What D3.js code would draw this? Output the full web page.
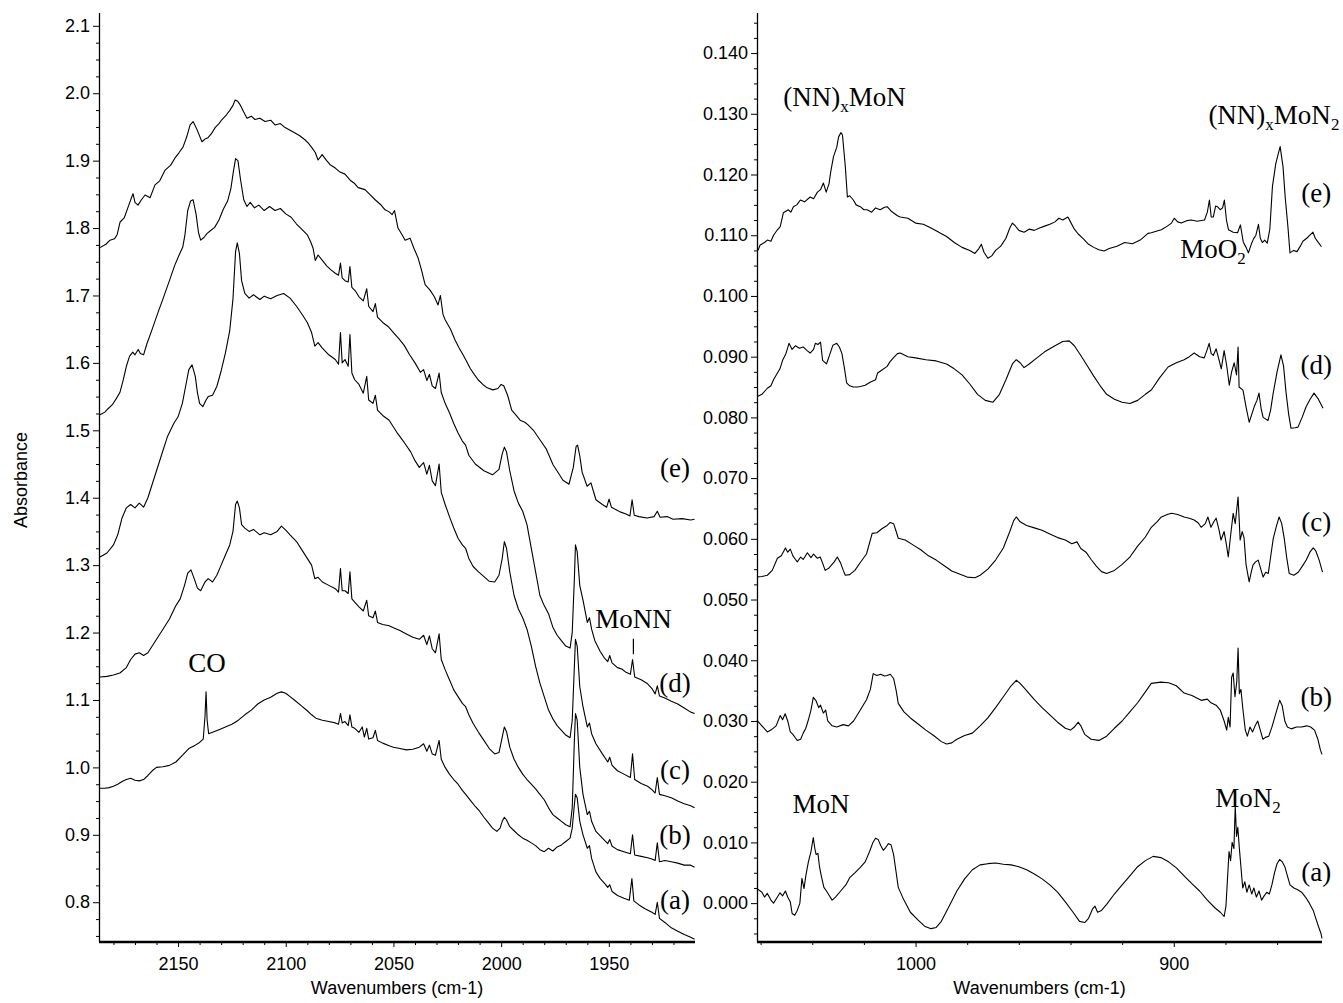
<!DOCTYPE html>
<html><head><meta charset="utf-8">
<script src="https://cdn.jsdelivr.net/npm/d3@7"></script>
<style>
body{margin:0;background:#fff;}
svg{display:block;background:#fff;}
</style></head><body>
<svg id="chart" width="1343" height="1003"></svg>
<script>
// ---------- DATA ----------
const leftXTicks = [2150, 2100, 2050, 2000, 1950];
const leftYTicks = [0.8, 0.9, 1.0, 1.1, 1.2, 1.3, 1.4, 1.5, 1.6, 1.7, 1.8, 1.9, 2.0, 2.1];
const rightXTicks = [1000, 900];
const rightYTicks = [0.000, 0.010, 0.020, 0.030, 0.040, 0.050, 0.060, 0.070, 0.080, 0.090, 0.100, 0.110, 0.120, 0.130, 0.140];
const seriesNames = ["(e)", "(d)", "(c)", "(b)", "(a)"];
const xTitle = "Wavenumbers (cm-1)";
const yTitle = "Absorbance";

// left panel spectra: [wavenumber, absorbance]
const leftE = [[2186.2,1.771],[2183.5,1.776],[2181.6,1.782],[2179.5,1.784],[2178.3,1.790],[2176.9,1.809],[2175,1.815],[2173.2,1.831],[2171.5,1.846],[2170.9,1.851],[2170,1.838],[2168.6,1.834],[2167,1.842],[2165.3,1.849],[2163,1.845],[2160.7,1.864],[2158.5,1.870],[2156.0,1.886],[2153.5,1.893],[2151.4,1.904],[2149.5,1.912],[2147.7,1.920],[2146,1.935],[2144.4,1.953],[2143.0,1.958],[2141.2,1.946],[2138.9,1.928],[2137.5,1.932],[2136.1,1.934],[2134.5,1.940],[2132.8,1.949],[2131,1.955],[2129.6,1.961],[2127.5,1.968],[2125.9,1.975],[2124.5,1.982],[2123.5,1.990],[2122.3,1.988],[2121.2,1.983],[2119.5,1.972],[2118.0,1.963],[2116,1.966],[2114.3,1.961],[2112,1.963],[2109.6,1.958],[2107,1.960],[2105.0,1.953],[2102.5,1.955],[2100.3,1.949],[2098,1.945],[2095.7,1.941],[2093.5,1.937],[2091.1,1.931],[2089.5,1.926],[2087.8,1.919],[2086.3,1.912],[2085.0,1.901],[2083.1,1.909],[2081,1.900],[2079.4,1.894],[2077,1.889],[2074.8,1.883],[2072.5,1.880],[2070.1,1.871],[2068,1.866],[2066.4,1.860],[2063.2,1.857],[2061,1.850],[2058.5,1.842],[2056,1.835],[2053.9,1.827],[2052,1.824],[2050.6,1.820],[2049.5,1.826],[2047.9,1.800],[2046,1.790],[2044.6,1.782],[2042.3,1.785],[2040.5,1.770],[2038.6,1.756],[2037,1.738],[2035.3,1.716],[2033.0,1.708],[2031,1.698],[2029.3,1.686],[2028.2,1.700],[2027,1.672],[2026.0,1.664],[2023.5,1.650],[2021.4,1.634],[2019.5,1.622],[2017.7,1.612],[2016,1.602],[2014.4,1.592],[2012.5,1.583],[2010.7,1.575],[2008.5,1.568],[2006.5,1.563],[2003.8,1.560],[2001.5,1.562],[2000.0,1.568],[1998.8,1.566],[1997,1.552],[1995.1,1.530],[1993,1.522],[1991.2,1.515],[1989,1.512],[1987.5,1.508],[1985,1.500],[1982.0,1.486],[1979,1.472],[1975.9,1.449],[1973.5,1.437],[1971.3,1.426],[1968.5,1.420],[1966.5,1.445],[1965.2,1.476],[1964.5,1.478],[1963.5,1.462],[1962.4,1.438],[1960.1,1.417],[1958.3,1.422],[1957.2,1.410],[1956.0,1.397],[1953,1.390],[1951.0,1.386],[1949.9,1.398],[1948.8,1.386],[1946,1.381],[1944.8,1.379],[1942,1.376],[1940.2,1.373],[1939.2,1.397],[1938.2,1.374],[1936,1.372],[1932.3,1.370],[1929,1.372],[1927.5,1.380],[1926.2,1.371],[1923,1.372],[1920.2,1.368],[1916,1.369],[1912,1.367],[1910.2,1.368]];

const leftD = [[2186.2,1.523],[2184,1.527],[2182.5,1.532],[2180.5,1.538],[2178.7,1.547],[2177,1.556],[2175.5,1.574],[2174,1.595],[2172.5,1.610],[2171,1.616],[2170,1.612],[2168.5,1.620],[2167.5,1.614],[2166,1.612],[2164.5,1.628],[2162,1.650],[2159.5,1.673],[2157,1.695],[2154,1.722],[2151.5,1.745],[2149.5,1.760],[2147.8,1.772],[2146.8,1.790],[2145.5,1.826],[2144.2,1.840],[2143,1.842],[2141.6,1.820],[2140.5,1.793],[2139.5,1.782],[2138,1.786],[2136.5,1.792],[2135,1.796],[2133,1.801],[2131,1.812],[2129,1.828],[2127,1.840],[2125.5,1.858],[2124.3,1.884],[2123.3,1.903],[2122.2,1.900],[2121,1.872],[2119.5,1.842],[2118,1.832],[2116.5,1.838],[2114.5,1.830],[2112.5,1.834],[2110,1.826],[2107.5,1.832],[2105,1.826],[2102.5,1.829],[2100,1.821],[2097.5,1.816],[2095,1.806],[2092.5,1.798],[2090,1.790],[2088.5,1.780],[2087.3,1.770],[2086.3,1.752],[2085,1.760],[2083,1.752],[2081,1.744],[2079,1.738],[2077,1.733],[2075.5,1.730],[2074.6,1.748],[2073.8,1.726],[2072.5,1.722],[2071,1.720],[2070.2,1.743],[2069.3,1.712],[2067.5,1.706],[2066,1.698],[2064,1.692],[2062.4,1.710],[2061.5,1.684],[2059.5,1.676],[2058.4,1.688],[2057.4,1.668],[2055,1.660],[2052.5,1.654],[2050,1.645],[2047.5,1.636],[2045,1.626],[2042.5,1.612],[2040,1.600],[2037.5,1.586],[2036,1.590],[2034.5,1.574],[2033.3,1.583],[2032,1.566],[2030.5,1.562],[2028.8,1.585],[2027.8,1.556],[2026,1.540],[2024,1.526],[2022,1.510],[2020,1.496],[2018,1.484],[2016.5,1.478],[2015,1.463],[2012,1.450],[2008,1.440],[2004,1.434],[2001,1.442],[1999.5,1.465],[1998.5,1.475],[1997.5,1.468],[1996,1.440],[1994,1.410],[1992,1.392],[1990,1.380],[1988,1.360],[1986,1.325],[1984,1.290],[1982,1.255],[1980,1.240],[1978,1.228],[1976,1.208],[1974,1.196],[1972.5,1.190],[1970,1.180],[1968,1.177],[1967,1.200],[1966,1.280],[1965.5,1.330],[1964.7,1.320],[1963.5,1.270],[1962,1.248],[1960,1.215],[1959,1.222],[1958,1.205],[1956.5,1.188],[1954,1.172],[1952,1.162],[1950.5,1.157],[1949.6,1.166],[1948.5,1.155],[1946,1.148],[1944,1.146],[1942,1.141],[1940,1.138],[1939,1.160],[1938,1.134],[1935,1.130],[1932,1.124],[1930,1.117],[1928.5,1.109],[1927.5,1.121],[1926.5,1.106],[1924,1.103],[1921,1.098],[1918,1.094],[1915,1.088],[1912,1.082],[1910.2,1.080]];

const leftC = [[2186.2,1.312],[2183,1.318],[2180,1.330],[2178,1.345],[2176,1.370],[2174,1.385],[2172,1.390],[2170,1.385],[2168,1.392],[2166,1.386],[2164,1.400],[2161,1.430],[2158,1.460],[2155,1.490],[2152,1.510],[2150,1.520],[2148,1.540],[2146.5,1.565],[2145,1.590],[2143.5,1.597],[2142,1.580],[2141,1.556],[2140,1.540],[2138.5,1.535],[2137,1.545],[2136,1.550],[2134,1.552],[2132,1.565],[2130,1.588],[2128,1.615],[2126,1.648],[2124.5,1.695],[2123.3,1.765],[2122.5,1.778],[2121.5,1.762],[2120.5,1.722],[2119,1.703],[2117,1.696],[2115,1.701],[2112,1.694],[2110,1.699],[2107,1.695],[2104,1.700],[2101,1.703],[2098,1.696],[2095,1.684],[2092,1.670],[2090,1.660],[2088,1.645],[2086.5,1.625],[2085,1.630],[2083,1.622],[2080,1.612],[2077,1.605],[2075.5,1.598],[2074.6,1.645],[2073.8,1.600],[2072.5,1.605],[2071,1.595],[2070.2,1.642],[2069.3,1.585],[2068,1.575],[2066,1.568],[2064,1.555],[2062.4,1.580],[2061.5,1.545],[2059.5,1.540],[2058.4,1.552],[2057.4,1.530],[2055,1.522],[2052,1.515],[2050,1.505],[2048,1.495],[2045,1.482],[2042,1.468],[2040,1.455],[2038,1.445],[2036,1.452],[2034.5,1.435],[2033.3,1.448],[2032,1.425],[2030.5,1.418],[2028.8,1.450],[2027.8,1.408],[2026,1.390],[2024,1.372],[2022,1.355],[2020,1.340],[2018,1.330],[2016.5,1.325],[2015,1.310],[2013,1.298],[2010.5,1.290],[2008,1.283],[2005.5,1.276],[2003,1.275],[2001,1.285],[1999.5,1.310],[1998.5,1.335],[1997.5,1.325],[1996,1.290],[1994,1.255],[1992,1.235],[1990,1.222],[1988,1.205],[1986,1.180],[1984,1.150],[1982,1.125],[1980,1.105],[1978,1.085],[1976,1.072],[1974,1.062],[1972,1.055],[1970,1.048],[1968,1.044],[1967,1.070],[1966,1.150],[1965.5,1.190],[1964.7,1.180],[1963.5,1.120],[1962,1.090],[1960,1.060],[1959,1.066],[1958,1.050],[1956,1.035],[1953,1.020],[1950.5,1.008],[1949.6,1.015],[1948.5,1.003],[1946,0.995],[1943,0.990],[1940,0.985],[1939,1.020],[1938,0.982],[1935,0.976],[1932,0.972],[1930,0.967],[1928.5,0.962],[1927.5,0.985],[1926.5,0.960],[1924,0.958],[1921,0.955],[1918,0.950],[1915,0.946],[1912,0.943],[1910.2,0.940]];

const leftB = [[2186.2,1.134],[2183,1.135],[2180,1.137],[2177,1.140],[2174,1.148],[2172,1.160],[2170,1.168],[2168,1.170],[2166,1.166],[2164,1.170],[2162,1.180],[2160,1.190],[2157,1.205],[2154,1.220],[2151,1.240],[2149,1.250],[2147,1.270],[2145.5,1.288],[2144,1.293],[2142.5,1.280],[2141,1.266],[2139.5,1.262],[2137.5,1.275],[2136,1.280],[2134,1.275],[2132,1.285],[2130,1.300],[2128,1.315],[2126,1.330],[2124.5,1.350],[2123.3,1.390],[2122.5,1.395],[2121.5,1.385],[2120.5,1.360],[2119,1.355],[2117,1.350],[2115,1.353],[2112,1.345],[2110,1.348],[2107,1.345],[2104,1.350],[2102,1.358],[2100,1.352],[2098,1.345],[2095,1.335],[2092,1.320],[2090,1.310],[2088,1.300],[2086.5,1.280],[2085,1.282],[2083,1.275],[2080,1.270],[2077,1.265],[2075.5,1.260],[2074.6,1.295],[2073.8,1.262],[2072.5,1.262],[2071,1.258],[2070.2,1.290],[2069.3,1.250],[2068,1.245],[2066,1.238],[2064,1.232],[2062.4,1.248],[2061.5,1.225],[2059.5,1.222],[2058.4,1.232],[2057.4,1.215],[2055,1.212],[2052,1.210],[2050,1.207],[2047,1.203],[2044,1.198],[2041,1.193],[2038,1.190],[2036,1.196],[2034.5,1.182],[2033.3,1.195],[2032,1.176],[2030.5,1.170],[2028.8,1.198],[2027.8,1.160],[2026,1.145],[2024,1.130],[2022,1.115],[2020,1.105],[2018,1.095],[2016.5,1.090],[2015,1.078],[2013,1.065],[2010.5,1.052],[2008,1.040],[2005.5,1.028],[2003,1.020],[2001,1.022],[1999.5,1.045],[1998.5,1.060],[1997.5,1.053],[1996,1.030],[1994,1.012],[1992,1.000],[1990,0.990],[1988,0.982],[1986,0.975],[1984,0.968],[1982,0.960],[1980,0.952],[1978,0.940],[1976,0.930],[1974,0.925],[1972,0.920],[1970,0.915],[1968,0.912],[1967,0.940],[1966,1.040],[1965.5,1.080],[1964.7,1.070],[1963.5,1.000],[1962,0.960],[1960,0.930],[1959,0.935],[1958,0.920],[1956,0.905],[1953,0.895],[1950.5,0.887],[1949.6,0.893],[1948.5,0.883],[1946,0.878],[1943,0.875],[1940,0.872],[1939,0.900],[1938,0.870],[1935,0.868],[1932,0.866],[1930,0.864],[1928.5,0.862],[1927.5,0.888],[1926.5,0.860],[1924,0.862],[1921,0.860],[1918,0.858],[1915,0.855],[1912,0.855],[1910.2,0.852]];

const leftA = [[2186.2,0.969],[2184,0.969],[2182,0.970],[2180,0.972],[2178,0.975],[2176,0.979],[2174,0.982],[2172,0.984],[2170,0.981],[2168,0.980],[2166,0.982],[2164,0.988],[2162,0.995],[2160,1.000],[2157,1.001],[2154,1.003],[2151,1.008],[2148,1.018],[2145,1.028],[2142,1.033],[2140,1.037],[2138.3,1.042],[2137.5,1.075],[2137,1.112],[2136.5,1.070],[2135.8,1.050],[2134,1.052],[2131,1.056],[2128,1.060],[2125,1.064],[2122,1.070],[2119,1.078],[2116,1.085],[2113,1.094],[2110,1.100],[2107,1.104],[2104,1.110],[2102,1.112],[2100,1.110],[2098,1.105],[2096,1.100],[2093,1.092],[2090,1.084],[2088,1.078],[2086,1.073],[2083,1.070],[2080,1.068],[2077,1.066],[2075.5,1.064],[2074.6,1.080],[2073.8,1.066],[2072.5,1.068],[2071,1.062],[2070.2,1.078],[2069.3,1.060],[2068,1.058],[2066,1.052],[2064.5,1.060],[2063.5,1.045],[2062.4,1.058],[2061.5,1.042],[2059.5,1.044],[2058.4,1.055],[2057.4,1.040],[2055,1.036],[2052,1.032],[2050,1.030],[2047,1.028],[2044,1.026],[2041,1.027],[2038,1.030],[2036,1.035],[2034.5,1.024],[2033.3,1.033],[2032,1.020],[2030.5,1.018],[2028.8,1.040],[2027.8,1.012],[2026,1.000],[2024,0.990],[2022,0.982],[2020,0.975],[2018,0.966],[2016,0.958],[2014,0.950],[2012,0.942],[2010,0.935],[2008,0.926],[2006,0.918],[2004,0.910],[2002,0.905],[2000.5,0.910],[1999.5,0.920],[1998.5,0.926],[1997.5,0.922],[1996,0.912],[1994,0.906],[1992,0.900],[1990,0.895],[1988,0.892],[1986,0.888],[1984,0.884],[1982,0.878],[1980,0.875],[1978,0.880],[1976,0.876],[1974,0.882],[1972,0.885],[1970,0.890],[1968,0.895],[1967,0.910],[1966,0.945],[1965.5,0.960],[1964.7,0.955],[1963.5,0.920],[1962,0.900],[1960,0.880],[1959,0.884],[1958,0.865],[1956,0.845],[1954,0.835],[1952,0.828],[1950.5,0.822],[1949.6,0.826],[1948.5,0.816],[1946,0.810],[1943,0.806],[1940.5,0.803],[1939.3,0.835],[1938.4,0.802],[1936,0.796],[1933,0.790],[1930,0.785],[1928.5,0.782],[1927.5,0.800],[1926.5,0.776],[1924,0.770],[1921,0.762],[1918,0.757],[1915,0.752],[1912,0.748],[1910.2,0.745]];

// right panel spectra: [wavenumber, absorbance]
const rightE = [[1061,0.1075],[1060.2,0.1084],[1058.5,0.1088],[1057.4,0.1092],[1056,0.1090],[1055,0.1100],[1053.5,0.1109],[1052.4,0.1114],[1051.2,0.1137],[1049.3,0.1142],[1048.3,0.1138],[1047.3,0.1147],[1046,0.1150],[1044.6,0.1158],[1043,0.1155],[1040.8,0.1163],[1039.5,0.1160],[1038.0,0.1171],[1036.8,0.1175],[1035.7,0.1186],[1034.6,0.1171],[1033.5,0.1185],[1032.9,0.1203],[1031.8,0.1229],[1030.5,0.1245],[1029.8,0.1262],[1028.9,0.1269],[1028.3,0.1265],[1027.2,0.1213],[1026.4,0.1163],[1025.5,0.1165],[1024.1,0.1158],[1023,0.1150],[1021.4,0.1147],[1020,0.1142],[1018.7,0.1142],[1017,0.1138],[1015.5,0.1145],[1013.7,0.1142],[1012,0.1146],[1011.0,0.1147],[1009.5,0.1140],[1008.6,0.1137],[1007,0.1132],[1005.9,0.1130],[1003,0.1128],[1000,0.1120],[997,0.1118],[994,0.1112],[991,0.1105],[988,0.1098],[985,0.1088],[982,0.1080],[979,0.1075],[977,0.1070],[975.5,0.1078],[974.5,0.1085],[973.5,0.1072],[972,0.1062],[970.5,0.1066],[969,0.1075],[967,0.1082],[965,0.1095],[963.5,0.1112],[962.5,0.1120],[961.5,0.1116],[960,0.1108],[958,0.1105],[956,0.1110],[954,0.1108],[952,0.1112],[950,0.1115],[948,0.1118],[946,0.1122],[944.5,0.1128],[943,0.1125],[941,0.1130],[940,0.1122],[938.5,0.1110],[937,0.1102],[935,0.1094],[933,0.1085],[931,0.1080],[929,0.1076],[927,0.1074],[925,0.1078],[922,0.1082],[919,0.1088],[916,0.1086],[913,0.1092],[910,0.1103],[908.7,0.1104],[906.5,0.1107],[904.8,0.1109],[902.5,0.1115],[900.9,0.1120],[899.8,0.1128],[898.5,0.1122],[897.1,0.1120],[895,0.1124],[893.2,0.1125],[891,0.1123],[888.1,0.1125],[887,0.1138],[886.2,0.1158],[885.5,0.1130],[884.7,0.1130],[883.8,0.1148],[883.1,0.1147],[882,0.1142],[881.1,0.1145],[880.4,0.1158],[879.6,0.1125],[878.8,0.1109],[877,0.1105],[875.3,0.1104],[874.2,0.1117],[873.1,0.1089],[872,0.1080],[871.1,0.1071],[870,0.1085],[869.1,0.1094],[868.2,0.1100],[867.2,0.1118],[866.5,0.1095],[865.7,0.1088],[864.8,0.1092],[863.8,0.1087],[862.8,0.1110],[861.8,0.1180],[860.5,0.1218],[859.5,0.1235],[858.8,0.1246],[857.7,0.1213],[856.8,0.1160],[855.8,0.1114],[855,0.1071],[853.6,0.1075],[852.3,0.1073],[851,0.1082],[850,0.1090],[848.5,0.1095],[847.3,0.1100],[846.1,0.1105],[845.2,0.1095],[844.2,0.1089],[842.8,0.1081]];

const rightD = [[1061,0.0835],[1059.5,0.0838],[1057.4,0.0848],[1056,0.0852],[1055,0.0862],[1053.5,0.0873],[1052.5,0.0880],[1051.5,0.0894],[1050.2,0.0905],[1049,0.0922],[1047.8,0.0912],[1046.5,0.0918],[1045,0.0914],[1043.5,0.0916],[1042,0.0910],[1040.8,0.0906],[1039.5,0.0912],[1038.8,0.0922],[1037.8,0.0920],[1036.8,0.0924],[1036,0.0894],[1034.5,0.0888],[1033.5,0.0900],[1032,0.0919],[1030.5,0.0922],[1029.5,0.0916],[1028.5,0.0905],[1027.5,0.0880],[1026.7,0.0857],[1025.5,0.0852],[1024.1,0.0850],[1022.5,0.0850],[1021.4,0.0851],[1019.5,0.0853],[1017.6,0.0858],[1015.5,0.0862],[1014.7,0.0873],[1013,0.0878],[1011,0.0884],[1010,0.0891],[1008.6,0.0898],[1007,0.0905],[1005.9,0.0906],[1003,0.0900],[1000,0.0898],[996,0.0895],[992,0.0893],[988,0.0888],[985,0.0880],[982,0.0870],[979,0.0855],[976,0.0838],[973,0.0828],[970,0.0825],[967.5,0.0838],[965,0.0862],[962.5,0.0888],[961,0.0895],[959.5,0.0890],[958,0.0882],[956,0.0888],[953,0.0898],[950,0.0908],[946,0.0918],[943,0.0925],[940.5,0.0926],[938.5,0.0918],[936,0.0902],[933.5,0.0885],[931,0.0868],[928.5,0.0852],[926,0.0838],[923,0.0830],[920,0.0825],[917,0.0823],[914,0.0828],[911,0.0838],[908.7,0.0845],[905.5,0.0865],[902.2,0.0883],[899,0.0890],[896,0.0895],[894,0.0900],[892.1,0.0906],[890,0.0900],[888.2,0.0898],[887.2,0.0910],[886.3,0.0922],[885.5,0.0905],[884.7,0.0902],[883.6,0.0913],[882.5,0.0895],[881.6,0.0880],[880.5,0.0910],[879.5,0.0885],[878.5,0.0853],[877.6,0.0875],[876.6,0.0890],[875.7,0.0870],[875.1,0.0916],[874.7,0.0850],[873.2,0.0845],[872,0.0817],[870.8,0.0792],[869.8,0.0805],[868.9,0.0817],[867.8,0.0828],[867,0.0840],[866.2,0.0815],[865.4,0.0800],[863.5,0.0795],[862.5,0.0812],[861.5,0.0840],[860,0.0875],[858.5,0.0903],[857.5,0.0885],[856.5,0.0840],[855.5,0.0805],[854.6,0.0782],[853,0.0783],[851.9,0.0784],[850.3,0.0800],[848.8,0.0817],[847.2,0.0830],[845.7,0.0840],[844,0.0830],[842.2,0.0815]];

const rightC = [[1061.4,0.0537],[1059.5,0.0538],[1057.4,0.0540],[1055.5,0.0548],[1053.5,0.0568],[1052,0.0572],[1051,0.0580],[1050.4,0.0585],[1049.5,0.0578],[1048.5,0.0583],[1047.5,0.0572],[1046.5,0.0566],[1045.8,0.0562],[1044.5,0.0570],[1043.5,0.0566],[1041.9,0.0577],[1040.5,0.0569],[1039.5,0.0575],[1038,0.0568],[1036.9,0.0570],[1036,0.0560],[1035,0.0548],[1033.5,0.0552],[1031.5,0.0562],[1030.3,0.0570],[1029,0.0560],[1028,0.0548],[1027.2,0.0540],[1025.5,0.0541],[1023.5,0.0548],[1021.4,0.0561],[1019,0.0575],[1016.8,0.0609],[1015,0.0610],[1012.9,0.0617],[1011,0.0622],[1009.8,0.0627],[1008.5,0.0625],[1007.5,0.0612],[1006.7,0.0601],[1004,0.0598],[1001,0.0590],[998,0.0582],[995,0.0572],[992,0.0565],[989,0.0556],[986,0.0547],[983,0.0542],[980,0.0537],[977,0.0536],[975,0.0540],[972,0.0550],[969,0.0565],[966,0.0585],[963.5,0.0612],[962,0.0630],[961,0.0636],[959.5,0.0628],[957,0.0622],[954,0.0618],[951,0.0614],[948,0.0608],[945,0.0602],[942,0.0598],[939.5,0.0592],[937.5,0.0595],[936,0.0584],[934,0.0578],[932,0.0566],[930,0.0555],[928,0.0546],[926,0.0543],[923,0.0548],[920,0.0558],[917,0.0570],[914,0.0588],[911,0.0603],[908.7,0.0619],[906.5,0.0628],[904.8,0.0636],[902.5,0.0640],[900.9,0.0642],[898.5,0.0640],[896,0.0636],[894,0.0634],[892.1,0.0631],[890.5,0.0626],[889.4,0.0619],[887.8,0.0625],[886.8,0.0636],[885.6,0.0619],[884.5,0.0628],[883.6,0.0634],[882.5,0.0615],[881.7,0.0598],[880.5,0.0612],[879.6,0.0590],[878.9,0.0570],[878,0.0605],[877,0.0642],[876.2,0.0625],[875.1,0.0669],[874.3,0.0598],[873.5,0.0612],[872.8,0.0602],[872,0.0557],[870.8,0.0529],[870,0.0545],[869.3,0.0557],[868.3,0.0562],[867.3,0.0565],[866.3,0.0550],[865.4,0.0537],[864.4,0.0545],[863.4,0.0543],[862.5,0.0570],[861.5,0.0600],[860.3,0.0620],[859.2,0.0636],[858.2,0.0625],[857.2,0.0600],[856.3,0.0570],[855.3,0.0543],[853.5,0.0540],[851.8,0.0545],[850.2,0.0555],[848.7,0.0565],[847.3,0.0578],[846,0.0585],[845,0.0580],[843.7,0.0565],[842.4,0.0545]];

const rightB = [[1061.4,0.0301],[1059.5,0.0292],[1057.4,0.0282],[1056,0.0285],[1054,0.0292],[1052.4,0.0309],[1051.5,0.0302],[1050.5,0.0312],[1049.5,0.0300],[1048.5,0.0282],[1047.5,0.0278],[1046.5,0.0272],[1045.8,0.0268],[1044.5,0.0270],[1043.5,0.0280],[1042.5,0.0288],[1041.5,0.0302],[1040.5,0.0318],[1039.6,0.0339],[1038.5,0.0333],[1037.5,0.0322],[1036.8,0.0326],[1035.7,0.0313],[1034.8,0.0318],[1034,0.0300],[1032.3,0.0292],[1030.5,0.0290],[1028,0.0294],[1026,0.0292],[1024,0.0300],[1021.4,0.0318],[1019,0.0335],[1017.5,0.0352],[1016.4,0.0378],[1015,0.0375],[1013.5,0.0377],[1012,0.0374],[1011,0.0375],[1009.8,0.0377],[1008.5,0.0370],[1007.5,0.0350],[1006.7,0.0329],[1004.5,0.0315],[1002,0.0305],[999,0.0295],[996,0.0285],[993,0.0276],[990,0.0266],[988,0.0262],[986,0.0264],[984,0.0270],[981,0.0276],[978,0.0280],[975,0.0292],[972,0.0305],[969,0.0322],[966,0.0340],[963,0.0358],[961,0.0367],[959.5,0.0362],[957,0.0350],[954,0.0335],[951,0.0322],[948,0.0310],[945,0.0298],[942,0.0288],[940,0.0285],[938.5,0.0290],[937,0.0298],[936,0.0292],[934.5,0.0278],[932,0.0270],[929,0.0268],[926,0.0275],[923,0.0288],[920,0.0300],[917,0.0315],[914,0.0330],[911,0.0348],[908.7,0.0362],[905,0.0364],[902,0.0363],[899,0.0358],[896,0.0346],[893,0.0342],[889.4,0.0334],[887,0.0336],[885.6,0.0330],[883.6,0.0326],[882,0.0318],[880.5,0.0300],[879.5,0.0285],[878.9,0.0306],[878.2,0.0290],[877.6,0.0372],[877,0.0379],[876.3,0.0340],[875.6,0.0365],[875.1,0.0420],[874.6,0.0345],[874,0.0352],[873.2,0.0318],[872.3,0.0285],[871.5,0.0275],[870.5,0.0290],[869.5,0.0282],[868.5,0.0292],[867.5,0.0300],[866.5,0.0285],[865.5,0.0270],[864.5,0.0273],[863.2,0.0275],[862,0.0290],[860.5,0.0312],[859,0.0334],[858,0.0325],[857,0.0300],[856,0.0290],[854.5,0.0287],[852.5,0.0290],[850.5,0.0290],[848.5,0.0292],[847,0.0290],[845.5,0.0285],[844.2,0.0270],[843.2,0.0252],[842.6,0.0245]];

const rightA = [[1061.4,0.0024],[1059.5,0.0018],[1058.5,0.0010],[1057.4,0.0016],[1056,0.0005],[1055,0.0000],[1053.5,0.0010],[1052.5,0.0017],[1051.5,0.0012],[1050.4,0.0020],[1049.5,0.0010],[1048.5,0.0002],[1047.8,-0.0017],[1046.8,-0.0020],[1045.8,-0.0012],[1044.8,0.0000],[1044,0.0041],[1043.2,0.0024],[1042.5,0.0045],[1041.5,0.0068],[1040.5,0.0085],[1039.6,0.0108],[1039,0.0090],[1038.5,0.0080],[1037.8,0.0082],[1037.2,0.0060],[1036.5,0.0045],[1035.5,0.0026],[1034.5,0.0020],[1033.5,0.0013],[1032.3,0.0005],[1031,0.0010],[1029,0.0020],[1027,0.0030],[1025.5,0.0042],[1023.5,0.0050],[1021.4,0.0059],[1019.5,0.0068],[1017.8,0.0085],[1016.5,0.0100],[1015.5,0.0107],[1014.5,0.0105],[1013.5,0.0095],[1012.5,0.0087],[1011.5,0.0092],[1010.5,0.0098],[1009.5,0.0096],[1008.5,0.0080],[1007.5,0.0050],[1006.7,0.0026],[1004.5,0.0005],[1002,-0.0015],[999,-0.0028],[996.5,-0.0038],[994,-0.0042],[992,-0.0040],[990,-0.0030],[987,-0.0005],[984,0.0020],[981,0.0040],[978,0.0055],[975,0.0063],[972,0.0065],[969,0.0066],[966,0.0064],[963,0.0063],[960,0.0060],[957,0.0055],[954,0.0048],[951,0.0040],[948,0.0030],[945,0.0018],[942,0.0002],[939,-0.0015],[936.5,-0.0030],[934.5,-0.0032],[933,-0.0025],[931.5,-0.0010],[930.5,-0.0005],[929.5,-0.0015],[928,-0.0012],[926,-0.0002],[923,0.0015],[920,0.0030],[917,0.0045],[914,0.0060],[911,0.0070],[908,0.0077],[905,0.0075],[902,0.0068],[899,0.0058],[896,0.0045],[893,0.0032],[890,0.0020],[887,0.0005],[884,-0.0008],[882,-0.0015],[880.5,-0.0022],[879.8,-0.0005],[879.2,0.0040],[878.6,0.0085],[878,0.0070],[877.4,0.0100],[876.7,0.0090],[876.2,0.0160],[875.7,0.0110],[875.2,0.0125],[874.6,0.0090],[874,0.0060],[873.3,0.0025],[872.5,0.0035],[871.7,0.0018],[870.8,0.0030],[869.8,0.0015],[869,0.0025],[868,0.0010],[867,0.0020],[866,0.0005],[865,0.0012],[864,0.0018],[863,0.0015],[862,0.0030],[861,0.0050],[860,0.0065],[859,0.0072],[858,0.0068],[857,0.0060],[856,0.0045],[855,0.0030],[853.5,0.0025],[852,0.0022],[850.5,0.0018],[849,0.0010],[847.5,0.0000],[846,-0.0012],[845,-0.0025],[844,-0.0038],[843,-0.0050],[842.6,-0.0058]];

const leftSeries = [leftE, leftD, leftC, leftB, leftA];
const rightSeries = [rightE, rightD, rightC, rightB, rightA];

// ---------- LAYOUT ----------
const svg = d3.select("#chart");
const sans = '"Liberation Sans", Arial, Helvetica, sans-serif';
const serif = '"Liberation Serif", "Times New Roman", Times, serif';
const plotTop = 13, plotBottom = 942;

const L = {
  x: d3.scaleLinear().domain([2186.7, 1910]).range([99, 695]),
  y: d3.scaleLinear().domain([0.741, 2.119]).range([plotBottom, plotTop])
};
const R = {
  x: d3.scaleLinear().domain([1061.4, 842.6]).range([757, 1322]),
  y: d3.scaleLinear().domain([-0.0064, 0.1466]).range([plotBottom, plotTop])
};

function drawPanel(P, xTicks, xMinor, yTicks, yMinor, yFmt, series) {
  const g = svg.append("g");
  const [x0, x1] = P.x.range();
  const ya = g.append("g").attr("transform", `translate(${x0},0)`)
    .call(d3.axisLeft(P.y).tickValues(yTicks).tickFormat(yFmt).tickSize(6).tickPadding(3));
  ya.select(".domain").remove();
  ya.selectAll("text").attr("font-family", sans).attr("font-size", 18).attr("fill", "#000");
  ya.selectAll("line").attr("stroke", "#000");
  g.append("g").attr("transform", `translate(${x0},0)`)
    .call(d3.axisLeft(P.y).tickValues(yMinor).tickFormat("").tickSize(3))
    .call(s => { s.select(".domain").remove(); s.selectAll("line").attr("stroke", "#000"); });
  g.append("line").attr("x1", x0 + 0.5).attr("x2", x0 + 0.5).attr("y1", plotTop).attr("y2", plotBottom)
    .attr("stroke", "#000").attr("stroke-width", 1.3);
  const xa = g.append("g").attr("transform", `translate(0,${plotBottom})`)
    .call(d3.axisBottom(P.x).tickValues(xTicks).tickFormat(d3.format("d")).tickSize(5).tickPadding(10));
  xa.select(".domain").remove();
  xa.selectAll("text").attr("font-family", sans).attr("font-size", 18).attr("fill", "#000");
  xa.selectAll("line").attr("stroke", "#000");
  g.append("g").attr("transform", `translate(0,${plotBottom})`)
    .call(d3.axisBottom(P.x).tickValues(xMinor).tickFormat("").tickSize(3))
    .call(s => { s.select(".domain").remove(); s.selectAll("line").attr("stroke", "#000"); });
  g.append("line").attr("x1", x0).attr("x2", x1).attr("y1", plotBottom).attr("y2", plotBottom)
    .attr("stroke", "#000").attr("stroke-width", 2.6);
  g.append("text").attr("x", (x0 + x1) / 2).attr("y", 994).attr("text-anchor", "middle")
    .attr("font-family", sans).attr("font-size", 18).text(xTitle);
  const line = d3.line().x(d => P.x(d[0])).y(d => P.y(d[1]));
  g.selectAll("path.curve").data(series).enter().append("path")
    .attr("class", "curve").attr("d", line)
    .attr("fill", "none").attr("stroke", "#000").attr("stroke-width", 1.1).attr("stroke-linejoin", "round");
  return g;
}

drawPanel(L, leftXTicks, d3.range(1920, 2190, 10).filter(v => v % 50 !== 0),
  leftYTicks, d3.range(0.75, 2.12, 0.025).filter(v => Math.abs(v * 10 - Math.round(v * 10)) > 1e-6),
  d3.format(".1f"), leftSeries);
drawPanel(R, rightXTicks, d3.range(860, 1061, 20).filter(v => v % 100 !== 0),
  rightYTicks, d3.range(-0.005, 0.1466, 0.0025).filter(v => Math.abs(v * 100 - Math.round(v * 100)) > 1e-6),
  d3.format(".3f"), rightSeries);

svg.append("text").attr("transform", "translate(27,480) rotate(-90)").attr("text-anchor", "middle")
  .attr("font-family", sans).attr("font-size", 18).text(yTitle);

// ---------- ANNOTATIONS ----------
function label(P, wx, ay, parts, anchor) {
  const t = svg.append("text").attr("x", P.x(wx)).attr("y", P.y(ay))
    .attr("text-anchor", anchor || "middle").attr("font-family", serif).attr("font-size", 27).attr("fill", "#000");
  parts.forEach(p => {
    const ts = t.append("tspan").text(p.t);
    if (p.sub) ts.attr("font-size", 17).attr("dy", 6);
    else if (p.after) ts.attr("dy", -6);
  });
  return t;
}
const leftLabelPos = [[1919.3, 1.431], [1919.3, 1.112], [1919.3, 0.983], [1919.3, 0.886], [1919.3, 0.790]];
seriesNames.forEach((n, i) => label(L, leftLabelPos[i][0], leftLabelPos[i][1], [{t: n}]));
label(L, 2136.5, 1.141, [{t: "CO"}]);
label(L, 1938.6, 1.207, [{t: "MoNN"}]);
svg.append("line").attr("x1", L.x(1938.6)).attr("x2", L.x(1938.6))
  .attr("y1", L.y(1.191)).attr("y2", L.y(1.168)).attr("stroke", "#000").attr("stroke-width", 1.2);

const rightLabelPos = [[844.8, 0.1155], [844.8, 0.0872], [844.8, 0.0613], [844.8, 0.0324], [844.8, 0.0036]];
seriesNames.forEach((n, i) => label(R, rightLabelPos[i][0], rightLabelPos[i][1], [{t: n}]));
label(R, 1051.2, 0.1313, [{t: "(NN)"}, {t: "x", sub: true}, {t: "MoN", after: true}], "start");
label(R, 886.6, 0.1283, [{t: "(NN)"}, {t: "x", sub: true}, {t: "MoN", after: true}, {t: "2", sub: true}], "start");
label(R, 897.5, 0.1063, [{t: "MoO"}, {t: "2", sub: true}], "start");
label(R, 1036.6, 0.0149, [{t: "MoN"}]);
label(R, 883.9, 0.0159, [{t: "MoN"}, {t: "2", sub: true}], "start");
</script>
</body></html>
